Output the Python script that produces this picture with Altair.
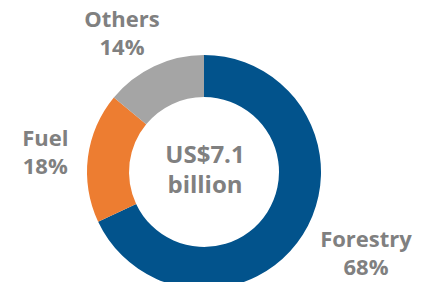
import altair as alt
import pandas as pd

categories = ["Forestry", "Fuel", "Others"]
values = [68, 18, 14]
pct_labels = ["68%", "18%", "14%"]
colors = ["#02538C", "#ED7D31", "#A5A5A5"]
center_text = ["US$7.1", "billion"]

df = pd.DataFrame({
    "category": categories,
    "value": values,
    "pct": pct_labels,
    "idx": list(range(len(categories))),
})
df["label"] = df["category"] + "\n" + df["pct"]

W, H = 415, 274
CX, CY = 196, 164
FONT = "Open Sans"
GREY = "#808080"

base = alt.Chart(df).encode(
    theta=alt.Theta("value:Q", stack=True),
    order=alt.Order("idx:Q"),
    x=alt.value(CX),
    y=alt.value(CY),
)

donut = base.mark_arc(innerRadius=75, outerRadius=117, stroke=None).encode(
    color=alt.Color("category:N", scale=alt.Scale(domain=categories, range=colors), legend=None)
)

label_style = {
    "Forestry": dict(radius=180, dx=10, dy=-28),
    "Fuel": dict(radius=160, dx=0, dy=-13),
    "Others": dict(radius=155, dx=-16, dy=-12),
}

layers = [donut]
for cat in categories:
    st = label_style[cat]
    layers.append(
        base.transform_calculate(
            t=f"datum.category == '{cat}' ? datum.label : ''"
        ).mark_text(
            radius=st["radius"], dx=st["dx"], dy=st["dy"],
            font=FONT, fontWeight="bold", fontSize=22, color=GREY,
            lineBreak="\n", lineHeight=28, align="center", baseline="middle",
        ).encode(text="t:N")
    )

center_df = pd.DataFrame({"t": center_text, "line": [0, 1]})
for i, offset in enumerate([-16, 14]):
    layers.append(
        alt.Chart(center_df).transform_filter(f"datum.line == {i}").mark_text(
            font=FONT, fontWeight="bold", fontSize=24, color=GREY,
            align="center", baseline="middle", dx=1, dy=offset,
        ).encode(text="t:N", x=alt.value(CX), y=alt.value(CY))
    )

chart = alt.layer(*layers).properties(
    width=W, height=H,
    autosize=alt.AutoSizeParams(type="none"),
    padding=0,
).configure_view(stroke=None)

chart.save("out.html", embed_options={"renderer": "svg", "actions": False})
